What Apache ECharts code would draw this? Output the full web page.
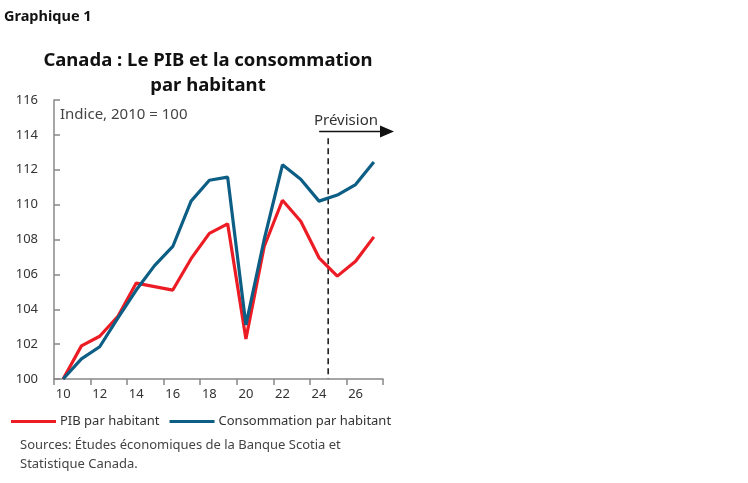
<!DOCTYPE html>
<html>
<head>
<meta charset="utf-8">
<script src="https://cdn.jsdelivr.net/npm/echarts@6/dist/echarts.min.js"></script>
<style>
  html, body { margin: 0; padding: 0; background: #fff; }
  #chart { width: 748px; height: 483px; }
</style>
</head>
<body>
<div id="chart"></div>
<script>
var years = ['10', '11', '12', '13', '14', '15', '16', '17', '18', '19', '20', '21', '22', '23', '24', '25', '26', '27'];
var pib = [100, 101.9, 102.45, 103.6, 105.5, 105.3, 105.1, 106.9, 108.35, 108.9, 102.3, 107.6, 110.25, 109.05, 106.95, 105.9, 106.75, 108.15];
var conso = [100, 101.15, 101.85, 103.5, 105.1, 106.5, 107.6, 110.2, 111.4, 111.58, 103.1, 108.0, 112.28, 111.45, 110.2, 110.55, 111.15, 112.45];
var forecastStart = '25';

var font = '"Noto Sans", sans-serif';
var chart = echarts.init(document.getElementById('chart'));

var option = {
  animation: false,
  textStyle: {fontFamily: font},
  title: [
    {
      text: 'Graphique 1',
      left: -1, top: 4,
      textStyle: {fontSize: 14.5, fontWeight: 'bold', color: '#111', fontFamily: font}
    },
    {
      text: 'Canada : Le PIB et la consommation\npar habitant',
      left: 203, top: 43,
      textAlign: 'center',
      textStyle: {fontSize: 18.5, fontWeight: 'bold', color: '#111', lineHeight: 25, fontFamily: font}
    }
  ],
  grid: {left: 54, right: 365, top: 100, bottom: 104},
  legend: {
    left: 6, top: 410,
    itemWidth: 45, itemHeight: 3, itemGap: 10,
    icon: 'rect',
    textStyle: {fontSize: 13, color: '#333', padding: [0, 0, 0, -1]},
    data: ['PIB par habitant', 'Consommation par habitant']
  },
  xAxis: {
    type: 'category',
    data: years,
    boundaryGap: true,
    axisLine: {lineStyle: {color: '#888', width: 1.5}},
    axisTick: {show: true, interval: 1, length: 6, lineStyle: {color: '#888', width: 1.5}},
    axisLabel: {interval: 1, fontSize: 13, color: '#333', margin: 9}
  },
  yAxis: {
    type: 'value',
    min: 100, max: 116, interval: 2,
    splitLine: {show: false},
    axisLine: {show: true, lineStyle: {color: '#888', width: 1.5}},
    axisTick: {show: true, inside: true, length: 6, lineStyle: {color: '#888', width: 1.5}},
    axisLabel: {fontSize: 13, color: '#333', margin: 16}
  },
  series: [
    {
      name: 'PIB par habitant',
      type: 'line',
      data: pib,
      symbol: 'none',
      color: '#ec1c24',
      lineStyle: {width: 3.2, color: '#ec1c24'}
    },
    {
      name: 'Consommation par habitant',
      type: 'line',
      data: conso,
      symbol: 'none',
      color: '#0d5e85',
      lineStyle: {width: 3.2, color: '#0d5e85'}
    }
  ]
};
chart.setOption(option);

// ligne pointillée de prévision, entre 2024 et 2025
var i = years.indexOf(forecastStart);
var xa = chart.convertToPixel({xAxisIndex: 0}, years[i - 1]);
var xb = chart.convertToPixel({xAxisIndex: 0}, years[i]);
var xf = (xa + xb) / 2;
var yTop = chart.convertToPixel({yAxisIndex: 0}, 113.8);
var yBot = chart.convertToPixel({yAxisIndex: 0}, 100);
var yArrow = chart.convertToPixel({yAxisIndex: 0}, 114.2);

chart.setOption({
  graphic: [
    {
      type: 'line',
      shape: {x1: xf, y1: yTop, x2: xf, y2: yBot},
      style: {stroke: '#111', lineWidth: 1.5, lineDash: [6, 4]}
    },
    {
      type: 'line',
      shape: {x1: xf - 9, y1: yArrow, x2: 382, y2: yArrow},
      style: {stroke: '#111', lineWidth: 1.5}
    },
    {
      type: 'polygon',
      shape: {points: [[380, yArrow - 6], [394, yArrow], [380, yArrow + 6]]},
      style: {fill: '#111'}
    },
    {
      type: 'text',
      x: 346, y: yArrow - 3,
      style: {text: 'Prévision', font: '15px ' + font, fill: '#333', textAlign: 'center', textVerticalAlign: 'bottom'}
    },
    {
      type: 'text',
      x: 60, y: 115,
      style: {text: 'Indice, 2010 = 100', font: '15px ' + font, fill: '#444', textVerticalAlign: 'middle'}
    },
    {
      type: 'text',
      x: 20, y: 436,
      style: {text: 'Sources: Études économiques de la Banque Scotia et\nStatistique Canada.', font: '13px ' + font, fill: '#444', lineHeight: 19}
    }
  ]
});
</script>
</body>
</html>
